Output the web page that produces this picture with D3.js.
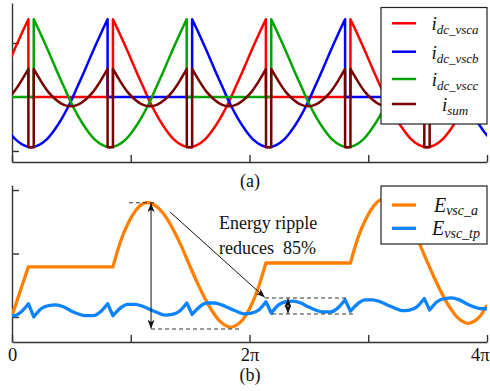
<!DOCTYPE html>
<html><head><meta charset="utf-8">
<script src="https://cdn.jsdelivr.net/npm/d3@7"></script>
<style>
body{margin:0;background:#fff;}
svg{display:block;}
text{font-family:"Liberation Serif","Times New Roman",serif;fill:#111;}
</style></head><body>
<svg id="c" width="490" height="391"></svg>
<script>
// ---------------- DATA (t in units of pi) ----------------
const xTickValues = [0, 1, 2, 3, 4];
const xTickLabels = ["0", "", "2\u03C0", "", "4\u03C0"];
const topYTicks = [-1, 1];
const botYTicks = [0, 1, 2];

const seriesTopNames = ["dc_vsca", "dc_vscb", "dc_vscc", "sum"];
const seriesBotNames = ["vsc_a", "vsc_tp"];

const iVscA = [[-0.055,0.49],[0.009,0.82],[0.074,1.14],[0.138,1.44],[0.138,0],[0.850,0],[0.850,1.44],
[0.914,1.14],[0.979,0.82],[1.043,0.49],[1.108,0.17],[1.172,-0.14],[1.236,-0.40],[1.301,-0.62],[1.365,-0.79],[1.430,-0.89],[1.494,-0.93],[1.558,-0.89],[1.623,-0.79],[1.687,-0.62],[1.752,-0.40],[1.816,-0.14],[1.880,0.17],[1.945,0.49],[2.009,0.82],[2.074,1.14],[2.138,1.44],[2.138,0],[2.850,0],[2.850,1.44],
[2.914,1.14],[2.979,0.82],[3.043,0.49],[3.108,0.17],[3.172,-0.14],[3.236,-0.40],[3.301,-0.62],[3.365,-0.79],[3.430,-0.89],[3.494,-0.93],[3.558,-0.89],[3.623,-0.79],[3.687,-0.62],[3.752,-0.40],[3.816,-0.14],[3.880,0.17],[3.945,0.49],[4.009,0.82],[4.074,1.14]];

const iVscB = [[-0.097,-0.40],[-0.032,-0.62],[0.032,-0.79],[0.097,-0.89],[0.161,-0.93],[0.225,-0.89],[0.290,-0.79],[0.354,-0.62],[0.419,-0.40],[0.483,-0.14],[0.547,0.17],[0.612,0.49],[0.676,0.82],[0.741,1.14],[0.805,1.44],[0.805,0],[1.517,0],[1.517,1.44],
[1.581,1.14],[1.646,0.82],[1.710,0.49],[1.775,0.17],[1.839,-0.14],[1.903,-0.40],[1.968,-0.62],[2.032,-0.79],[2.097,-0.89],[2.161,-0.93],[2.225,-0.89],[2.290,-0.79],[2.354,-0.62],[2.419,-0.40],[2.483,-0.14],[2.547,0.17],[2.612,0.49],[2.676,0.82],[2.741,1.14],[2.805,1.44],[2.805,0],[3.517,0],[3.517,1.44],
[3.581,1.14],[3.646,0.82],[3.710,0.49],[3.775,0.17],[3.839,-0.14],[3.903,-0.40],[3.968,-0.62],[4.032,-0.79]];

const iVscC = [[0,0],[0.183,0],[0.183,1.44],[0.247,1.14],[0.312,0.82],[0.376,0.49],[0.441,0.17],[0.505,-0.14],[0.569,-0.40],[0.634,-0.62],[0.698,-0.79],[0.763,-0.89],[0.827,-0.93],[0.891,-0.89],[0.956,-0.79],[1.020,-0.62],[1.085,-0.40],[1.149,-0.14],[1.213,0.17],[1.278,0.49],[1.342,0.82],[1.407,1.14],[1.471,1.44],[1.471,0],[2.183,0],[2.183,1.44],
[2.247,1.14],[2.312,0.82],[2.376,0.49],[2.441,0.17],[2.505,-0.14],[2.569,-0.40],[2.634,-0.62],[2.698,-0.79],[2.763,-0.89],[2.827,-0.93],[2.891,-0.89],[2.956,-0.79],[3.020,-0.62],[3.085,-0.40],[3.149,-0.14],[3.213,0.17],[3.278,0.49],[3.342,0.82],[3.407,1.14],[3.471,1.44],[3.471,0],[4,0]];

const iSum = [[-0.111,-0.14],[-0.049,-0.05],[0.014,0.09],[0.076,0.29],[0.138,0.52],[0.138,-0.93],[0.183,-0.93],[0.183,0.52],
[0.245,0.29],[0.307,0.09],[0.370,-0.05],[0.432,-0.14],[0.494,-0.17],[0.556,-0.14],[0.618,-0.05],[0.681,0.09],[0.743,0.29],[0.805,0.52],[0.805,-0.93],[0.850,-0.93],[0.850,0.52],
[0.912,0.29],[0.974,0.09],[1.037,-0.05],[1.099,-0.14],[1.161,-0.17],[1.223,-0.14],[1.285,-0.05],[1.348,0.09],[1.410,0.29],[1.472,0.52],[1.472,-0.93],[1.517,-0.93],[1.517,0.52],
[1.579,0.29],[1.641,0.09],[1.704,-0.05],[1.766,-0.14],[1.828,-0.17],[1.890,-0.14],[1.952,-0.05],[2.015,0.09],[2.077,0.29],[2.139,0.52],[2.139,-0.93],[2.183,-0.93],[2.183,0.52],
[2.245,0.29],[2.307,0.09],[2.370,-0.05],[2.432,-0.14],[2.494,-0.17],[2.556,-0.14],[2.618,-0.05],[2.681,0.09],[2.743,0.29],[2.805,0.52],[2.805,-0.93],[2.850,-0.93],[2.850,0.52],
[2.912,0.29],[2.974,0.09],[3.037,-0.05],[3.099,-0.14],[3.161,-0.17],[3.223,-0.14],[3.285,-0.05],[3.348,0.09],[3.410,0.29],[3.472,0.52],[3.472,-0.93],[3.517,-0.93],[3.517,0.52],
[3.579,0.29],[3.641,0.09],[3.704,-0.05],[3.766,-0.14],[3.828,-0.17],[3.890,-0.14],[3.952,-0.05],[4.015,0.09]];

const eVscA = [[0,0.02],[0.138,0.79],[0.850,0.79],
[0.914,1.19],[0.979,1.48],[1.043,1.68],[1.108,1.79],[1.143,1.80],[1.172,1.79],[1.236,1.71],[1.301,1.56],[1.365,1.35],[1.430,1.10],[1.494,0.82],[1.558,0.55],[1.623,0.30],[1.687,0.09],[1.752,-0.07],[1.816,-0.15],[1.846,-0.16],[1.880,-0.14],[1.945,-0.04],[2.009,0.16],[2.074,0.46],[2.138,0.85],[2.850,0.85],
[2.914,1.25],[2.979,1.54],[3.043,1.74],[3.108,1.85],[3.143,1.86],[3.172,1.85],[3.236,1.77],[3.301,1.62],[3.365,1.41],[3.430,1.16],[3.494,0.88],[3.558,0.61],[3.623,0.36],[3.687,0.15],[3.752,-0.01],[3.816,-0.09],[3.846,-0.10],[3.880,-0.08],[3.945,0.02],[4.000,0.19]];

const eVscTp = [[-0.111,0.05],[-0.049,0.02],[0.014,0.02],[0.076,0.08],[0.138,0.21],
[0.183,0.00],[0.245,0.13],[0.307,0.18],[0.370,0.19],[0.432,0.16],[0.494,0.10],[0.556,0.05],[0.618,0.02],[0.681,0.02],[0.743,0.08],[0.805,0.21],
[0.850,0.02],[0.912,0.14],[0.974,0.20],[1.037,0.20],[1.099,0.17],[1.161,0.12],[1.223,0.07],[1.285,0.03],[1.348,0.04],[1.410,0.09],[1.472,0.22],
[1.517,0.04],[1.579,0.16],[1.641,0.22],[1.704,0.22],[1.766,0.19],[1.828,0.14],[1.890,0.09],[1.952,0.05],[2.015,0.06],[2.077,0.11],[2.139,0.24],
[2.183,0.06],[2.245,0.19],[2.307,0.24],[2.370,0.25],[2.432,0.22],[2.494,0.16],[2.556,0.11],[2.618,0.08],[2.681,0.08],[2.743,0.14],[2.805,0.27],
[2.850,0.09],[2.912,0.21],[2.974,0.27],[3.037,0.27],[3.099,0.24],[3.161,0.19],[3.223,0.14],[3.285,0.10],[3.348,0.11],[3.410,0.16],[3.472,0.29],
[3.517,0.11],[3.579,0.24],[3.641,0.29],[3.704,0.30],[3.766,0.27],[3.828,0.21],[3.890,0.16],[3.952,0.13],[4.015,0.13]];

// annotation values (data units)
const ripplePeak = 1.80, rippleMin = -0.19;
const tpTop = 0.30, tpBot = 0.047;

// ---------------- DRAWING ----------------
const svg = d3.select("#c");
const x = d3.scaleLinear().domain([0, 4]).range([12, 487]);
const yT = d3.scaleLinear().domain([-1.204, 1.741]).range([162, 3]);
const yB = d3.scaleLinear().domain([-0.394, 2.079]).range([342, 185]);

const axisColor = "#333";

const defs = svg.append("defs");
defs.append("clipPath").attr("id","clipT").append("rect").attr("x",12).attr("y",0).attr("width",475).attr("height",162);
defs.append("clipPath").attr("id","clipB").append("rect").attr("x",12).attr("y",183).attr("width",475).attr("height",159);
defs.append("marker").attr("id","arr").attr("viewBox","0 0 10 8").attr("refX",10).attr("refY",4)
  .attr("markerWidth",9).attr("markerHeight",7).attr("markerUnits","userSpaceOnUse")
  .attr("orient","auto-start-reverse")
  .append("path").attr("d","M0,0 L10,4 L0,8 L2.5,4 Z").attr("fill","#111");

// smooth (monotone) path that keeps sharp corners and vertical jumps
function addRun(p, r){
  const m = r.length;
  if (m === 2){ p.lineTo(r[1][0], r[1][1]); return; }
  const h = [], d = [];
  for (let i=0;i<m-1;i++){ h[i] = r[i+1][0]-r[i][0]; d[i] = (r[i+1][1]-r[i][1])/h[i]; }
  const t = [];
  for (let i=1;i<m-1;i++){
    const p0 = (d[i-1]*h[i] + d[i]*h[i-1])/(h[i-1]+h[i]);
    t[i] = (Math.sign(d[i-1])+Math.sign(d[i]))*Math.min(Math.abs(d[i-1]),Math.abs(d[i]),0.5*Math.abs(p0)) || 0;
  }
  t[0] = (3*d[0]-t[1])/2;
  t[m-1] = (3*d[m-2]-t[m-2])/2;
  for (let i=0;i<m-1;i++){
    const dx = h[i]/3;
    p.bezierCurveTo(r[i][0]+dx, r[i][1]+t[i]*dx, r[i+1][0]-dx, r[i+1][1]-t[i+1]*dx, r[i+1][0], r[i+1][1]);
  }
}
function smoothPath(data, ys){
  const pts = data.map(d => [x(d[0]), ys(d[1])]);
  const n = pts.length;
  const corner = new Array(n).fill(false);
  corner[0] = corner[n-1] = true;
  for (let i=1;i<n-1;i++){
    const ax = pts[i][0]-pts[i-1][0], ay = pts[i][1]-pts[i-1][1];
    const bx = pts[i+1][0]-pts[i][0], by = pts[i+1][1]-pts[i][1];
    if (ax < 1e-6 || bx < 1e-6){ corner[i] = true; continue; }
    if (Math.abs(Math.atan2(by,bx)-Math.atan2(ay,ax)) > 50*Math.PI/180) corner[i] = true;
  }
  const p = d3.path();
  p.moveTo(pts[0][0], pts[0][1]);
  let s = 0;
  for (let i=1;i<n;i++) if (corner[i]){ addRun(p, pts.slice(s, i+1)); s = i; }
  return p.toString();
}

function styleAxis(g){
  g.select(".domain").attr("stroke", axisColor).attr("stroke-width", 1.4);
  g.selectAll(".tick line").attr("stroke", axisColor).attr("stroke-width", 1.4);
}

// ---- top panel ----
const gT = svg.append("g");
gT.append("g").attr("transform","translate(0,162)")
  .call(d3.axisBottom(x).tickValues(xTickValues).tickSize(-7).tickSizeOuter(0).tickFormat(""))
  .call(styleAxis);
gT.append("g").attr("transform","translate(12,0)")
  .call(d3.axisLeft(yT).tickValues(topYTicks).tickSize(-7).tickSizeOuter(0).tickFormat(""))
  .call(styleAxis);

const topSeries = [
  {data:iVscA, color:"#ff0000"},
  {data:iVscB, color:"#0000ff"},
  {data:iVscC, color:"#00a400"},
  {data:iSum,  color:"#7a0000"}
];
const plotT = gT.append("g").attr("clip-path","url(#clipT)");
topSeries.forEach(s => {
  plotT.append("path").attr("d", smoothPath(s.data, yT)).attr("fill","none")
    .attr("stroke", s.color).attr("stroke-width", 2.5).attr("stroke-linejoin","round").attr("stroke-linecap","butt");
});

const lgT = svg.append("g");
lgT.append("rect").attr("x",381).attr("y",7.5).attr("width",106).attr("height",116.5)
  .attr("fill","#fff").attr("stroke","#222").attr("stroke-width",1.2);
const lgTy = [23.3, 51.7, 79, 104];
topSeries.forEach((s,i) => {
  lgT.append("line").attr("x1",392).attr("x2",416).attr("y1",lgTy[i]).attr("y2",lgTy[i])
    .attr("stroke", s.color).attr("stroke-width", 2.5);
  const t = lgT.append("text").attr("x",455).attr("y",lgTy[i]+7).attr("text-anchor","middle")
    .style("font-style","italic");
  t.append("tspan").attr("font-size",19).text("i");
  t.append("tspan").attr("font-size",13).attr("dy",4).text(seriesTopNames[i]);
});

svg.append("text").attr("x",250).attr("y",187).attr("text-anchor","middle").attr("font-size",18).text("(a)");

// ---- bottom panel ----
const gB = svg.append("g");
const xAxB = gB.append("g").attr("transform","translate(0,342)")
  .call(d3.axisBottom(x).tickValues(xTickValues).tickSize(-7).tickSizeOuter(0).tickFormat(""))
  .call(styleAxis);
xAxB.selectAll(".tick").each(function(d,i){
  if (!xTickLabels[i]) return;
  d3.select(this).append("text").attr("y",19).attr("x", i === 4 ? 2 : 0)
    .attr("text-anchor", i === 4 ? "end" : "middle")
    .attr("font-size",18.5).attr("fill","#111")
    .attr("font-family",'"Liberation Serif","Times New Roman",serif')
    .text(xTickLabels[i]);
});
gB.append("g").attr("transform","translate(12,0)")
  .call(d3.axisLeft(yB).tickValues(botYTicks).tickSize(-7).tickSizeOuter(0).tickFormat(""))
  .call(styleAxis);

const botSeries = [
  {data:eVscA, color:"#ff8000"},
  {data:eVscTp, color:"#0d84ff"}
];
const plotB = gB.append("g").attr("clip-path","url(#clipB)");
botSeries.forEach(s => {
  plotB.append("path").attr("d", smoothPath(s.data, yB)).attr("fill","none")
    .attr("stroke", s.color).attr("stroke-width", 3.3).attr("stroke-linejoin","round").attr("stroke-linecap","butt");
});

// annotations
const ann = svg.append("g").attr("stroke","#333").attr("fill","none");
const dash = "4,3";
const tPeak = 1.171;
ann.append("line").attr("x1",x(0.985)).attr("x2",x(1.204)).attr("y1",yB(ripplePeak)).attr("y2",yB(ripplePeak))
  .attr("stroke-dasharray",dash).attr("stroke-width",1.1);
ann.append("line").attr("x1",x(tPeak)).attr("x2",x(1.92)).attr("y1",yB(rippleMin)).attr("y2",yB(rippleMin))
  .attr("stroke-dasharray",dash).attr("stroke-width",1.1);
ann.append("line").attr("x1",x(tPeak)).attr("x2",x(tPeak)).attr("y1",yB(ripplePeak)+0.5).attr("y2",yB(rippleMin)-0.5)
  .attr("stroke","#111").attr("stroke-width",1)
  .attr("marker-start","url(#arr)").attr("marker-end","url(#arr)");
ann.append("line").attr("x1",x(1.331)).attr("y1",yB(1.654)).attr("x2",x(2.128)).attr("y2",yB(0.31))
  .attr("stroke","#111").attr("stroke-width",1).attr("marker-end","url(#arr)");
ann.append("line").attr("x1",x(2.131)).attr("x2",x(2.829)).attr("y1",yB(tpTop)).attr("y2",yB(tpTop))
  .attr("stroke-dasharray",dash).attr("stroke-width",1.1);
ann.append("line").attr("x1",x(2.189)).attr("x2",x(2.872)).attr("y1",yB(tpBot)).attr("y2",yB(tpBot))
  .attr("stroke-dasharray",dash).attr("stroke-width",1.1);
ann.append("line").attr("x1",x(2.324)).attr("x2",x(2.324)).attr("y1",yB(tpTop)+0.5).attr("y2",yB(tpBot)-0.5)
  .attr("stroke","#111").attr("stroke-width",1)
  .attr("marker-start","url(#arr)").attr("marker-end","url(#arr)");

svg.append("text").attr("x",219).attr("y",228.5).attr("font-size",18).text("Energy ripple");
svg.append("text").attr("x",219).attr("y",253.5).attr("font-size",18).style("white-space","pre").text("reduces  85%");

const lgB = svg.append("g");
lgB.append("rect").attr("x",381).attr("y",186).attr("width",106).attr("height",58)
  .attr("fill","#fff").attr("stroke","#222").attr("stroke-width",1.2);
const lgBy = [205, 228.3];
botSeries.forEach((s,i) => {
  lgB.append("line").attr("x1",392).attr("x2",416).attr("y1",lgBy[i]).attr("y2",lgBy[i])
    .attr("stroke", s.color).attr("stroke-width", 3.3);
  const t = lgB.append("text").attr("x",456).attr("y",lgBy[i]+7).attr("text-anchor","middle")
    .style("font-style","italic");
  t.append("tspan").attr("font-size",20).text("E");
  t.append("tspan").attr("font-size",14).attr("dy",3).text(seriesBotNames[i]);
});

svg.append("text").attr("x",250).attr("y",381).attr("text-anchor","middle").attr("font-size",18).text("(b)");
</script>
</body></html>
